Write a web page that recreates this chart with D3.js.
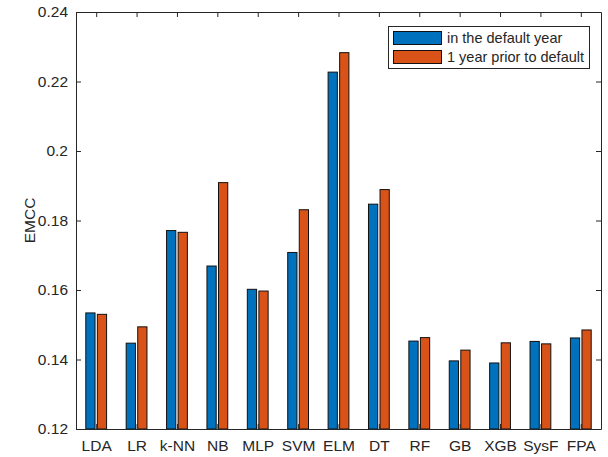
<!DOCTYPE html>
<html><head><meta charset="utf-8">
<script src="https://cdn.jsdelivr.net/npm/d3@7"></script>
<style>body{margin:0;background:#fff}svg{display:block}text{font-family:"Liberation Sans",Arial,Helvetica,sans-serif;fill:#262626}</style>
</head><body><svg id="c" width="608" height="457"></svg>
<script>
const categories = ["LDA","LR","k-NN","NB","MLP","SVM","ELM","DT","RF","GB","XGB","SysF","FPA"];
const seriesNames = ["in the default year","1 year prior to default"];
const defaultYear = [0.1534,0.1447,0.1771,0.1669,0.1602,0.1708,0.2227,0.1847,0.1453,0.1396,0.1390,0.1452,0.1462];
const priorYear   = [0.1530,0.1494,0.1766,0.1909,0.1597,0.1831,0.2283,0.1889,0.1463,0.1427,0.1448,0.1445,0.1485];
const yTicks = [0.12,0.14,0.16,0.18,0.2,0.22,0.24];
const yTickLabels = ["0.12","0.14","0.16","0.18","0.2","0.22","0.24"];
const colors = ["#0072BD","#D95319"];

const svg = d3.select("#c");
const L=76, R=601, T=12, B=429;
const x = d3.scaleLinear().domain([0.5, categories.length+0.5]).range([L,R]);
const y = d3.scaleLinear().domain([0.12,0.24]).range([B,T]);
const series=[defaultYear, priorYear];
const offs=[-0.143,0.143], bw=0.229;

const g = svg.append("g");
series.forEach((s,si)=>{
  g.selectAll(null).data(s).enter().append("rect")
   .attr("x",(d,i)=>x(i+1+offs[si]-bw/2))
   .attr("width",x(bw)-x(0))
   .attr("y",d=>y(d))
   .attr("height",d=>y(0.12)-y(d))
   .attr("fill",colors[si]).attr("stroke","#111").attr("stroke-width",1);
});

const col="#262626";
const xb = d3.axisBottom(x).tickValues(d3.range(1,categories.length+1)).tickFormat(i=>categories[i-1]).tickSizeInner(-5).tickSizeOuter(0).tickPadding(11);
const gx = svg.append("g").attr("transform",`translate(0,${B})`).call(xb);
const xt = d3.axisTop(x).tickValues(d3.range(1,categories.length+1)).tickFormat("").tickSizeInner(-5).tickSizeOuter(0);
const gxt = svg.append("g").attr("transform",`translate(0,${T})`).call(xt);
const yl = d3.axisLeft(y).tickValues(yTicks).tickFormat((d,i)=>yTickLabels[i]).tickSizeInner(-5).tickSizeOuter(0).tickPadding(8);
const gy = svg.append("g").attr("transform",`translate(${L},0)`).call(yl);
const yr = d3.axisRight(y).tickValues(yTicks).tickFormat("").tickSizeInner(-5).tickSizeOuter(0);
const gyr = svg.append("g").attr("transform",`translate(${R},0)`).call(yr);
[gx,gxt,gy,gyr].forEach(a=>{
  a.selectAll("path,line").attr("stroke",col).attr("stroke-width",1);
  a.selectAll("text").style("font-size","15.5px").attr("fill",col).style("font-family",'"Liberation Sans",Arial,sans-serif');
});
gx.selectAll("text").attr("dy","0.71em");

svg.append("text").attr("transform",`translate(35,${(T+B)/2}) rotate(-90)`).attr("text-anchor","middle").style("font-size","15.5px").text("EMCC");

const lg = svg.append("g");
lg.append("rect").attr("x",388.5).attr("y",26.5).attr("width",201).attr("height",42).attr("fill","#fff").attr("stroke",col).attr("stroke-width",1);
seriesNames.forEach((n,i)=>{
  lg.append("rect").attr("x",393.5).attr("y",31.5+i*19).attr("width",48).attr("height",13).attr("fill",colors[i]).attr("stroke","#111").attr("stroke-width",1);
  lg.append("text").attr("x",447).attr("y",43+i*19).style("font-size","14.5px").text(n);
});
</script></body></html>
